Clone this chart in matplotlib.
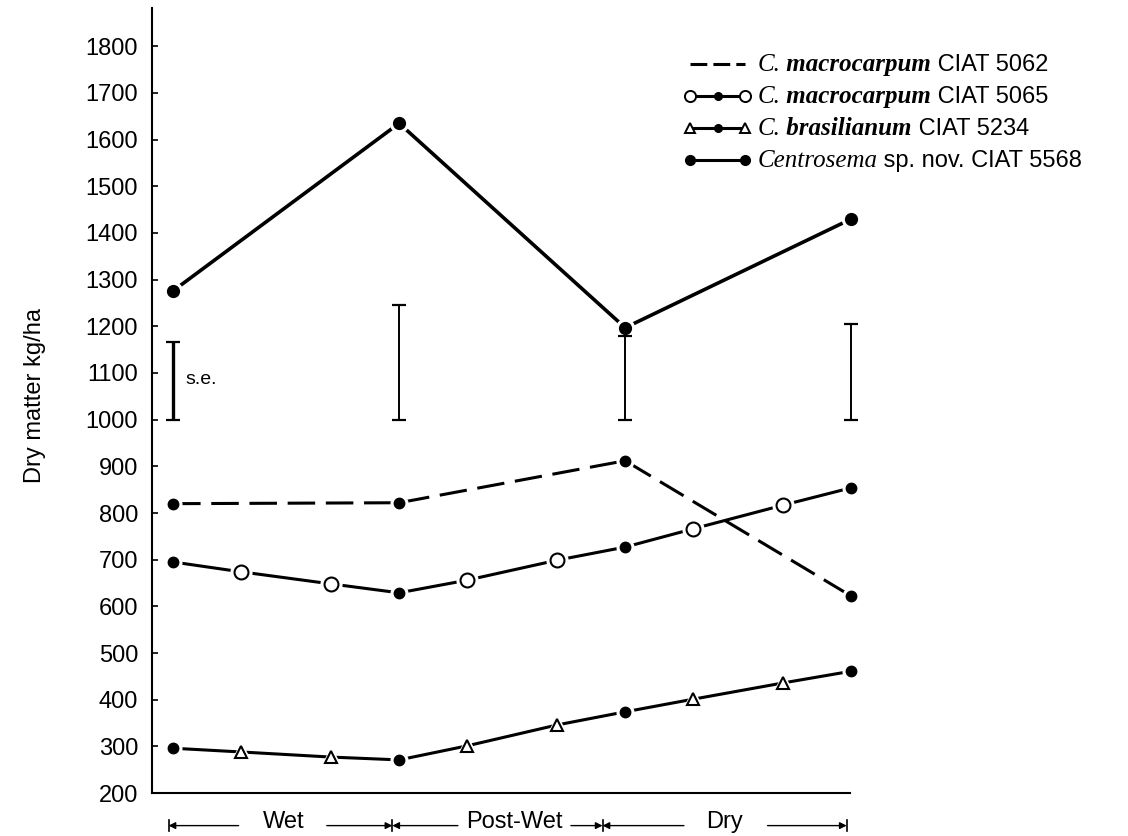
import matplotlib
matplotlib.use('Agg')
from matplotlib import pyplot as plt
from matplotlib import transforms

plt.rcParams.update({'font.family': 'Liberation Sans', 'font.size': 17})

# cutting dates, weeks from the first harvest of the wet season
weeks = [0, 3, 7, 10, 13, 17, 20, 23, 27, 30]
season_weeks = [0, 10, 20, 30]

# dry matter yield, kg/ha
cm5062 = [820, 822, 912, 622]
cm5065 = [695, 674, 648, 629, 656, 699, 727, 766, 817, 854]
cb5234 = [296, 288, 277, 271, 301, 346, 374, 401, 436, 461]
cs5568 = [1276, 1635, 1197, 1430]

# standard error bars drawn up from 1000
se_base = 1000
se_top = [1167, 1246, 1180, 1204]

seasons = ['Wet', 'Post-Wet', 'Dry']
season_edges = [-0.2, 9.7, 19.0, 29.8]
season_mid = [4.9, 15.1, 24.4]
season_gaps = [(2.9, 6.8), (12.6, 17.6), (22.6, 26.3)]

taxa = ['C.', 'C.', 'C.', 'Centrosema']
epithets = [' macrocarpum', ' macrocarpum', ' brasilianum', '']
accessions = [' CIAT 5062', ' CIAT 5065', ' CIAT 5234', ' sp. nov. CIAT 5568']

LW = 2.2
SERIF = 'Liberation Serif'


def marks(ax, x, y, marker, ms, filled, mew=1.5):
    # white halo first so the line stops short of each symbol
    ax.plot(x, y, ls='none', marker=marker, ms=ms + 5, mfc='white', mec='white',
            zorder=3, clip_on=False)
    ax.plot(x, y, ls='none', marker=marker, ms=ms, mew=mew, mec='k',
            mfc='k' if filled else 'white', zorder=4, clip_on=False)


def split(xs, ys):
    on = [(x, y) for x, y in zip(xs, ys) if x in season_weeks]
    off = [(x, y) for x, y in zip(xs, ys) if x not in season_weeks]
    return list(zip(*on)), list(zip(*off))


fig = plt.figure(figsize=(11.28, 8.36), dpi=100)
ax = fig.add_axes([0.1348, 0.0514, 0.6188, 0.939])
ax.set_xlim(-0.93, 29.95)
ax.set_ylim(200, 1882)
for s in ['top', 'right']:
    ax.spines[s].set_visible(False)
ax.spines['left'].set_linewidth(1.5)
ax.spines['bottom'].set_linewidth(1.5)
ax.set_xticks([])
ax.set_yticks(range(200, 1801, 100))
ax.tick_params(axis='y', direction='in', length=4, width=1.2, pad=10, labelsize=17)
ax.set_ylabel('Dry matter kg/ha', fontsize=17)
ax.yaxis.set_label_coords(-0.152, 0.507)

# C. macrocarpum 5062
ax.plot(season_weeks, cm5062, color='k', lw=LW, dashes=(9, 3.5), zorder=2)
marks(ax, season_weeks, cm5062, 'o', 7, True)

# C. macrocarpum 5065
ax.plot(weeks, cm5065, color='k', lw=LW, zorder=2)
(fx, fy), (ox, oy) = split(weeks, cm5065)
marks(ax, fx, fy, 'o', 7, True)
marks(ax, ox, oy, 'o', 10, False)

# C. brasilianum 5234
ax.plot(weeks, cb5234, color='k', lw=LW, zorder=2)
(fx, fy), (ox, oy) = split(weeks, cb5234)
marks(ax, fx, fy, 'o', 7, True)
marks(ax, ox, oy, '^', 9, False)

# Centrosema sp. nov. 5568
ax.plot(season_weeks, cs5568, color='k', lw=2.6, zorder=2)
marks(ax, season_weeks, cs5568, 'o', 8, True)

# s.e. bars
for i, (w, top) in enumerate(zip(season_weeks, se_top)):
    half = (top - se_base) / 2
    eb = ax.errorbar([w], [se_base + half], yerr=[half], fmt='none', ecolor='k',
                     elinewidth=2.4 if i == 0 else 1.4, capsize=5,
                     capthick=1.6, zorder=5)
    for art in eb.get_children():
        art.set_clip_on(False)
ax.text(0.55, 1085, 's.e.', fontsize=14, ha='left', va='center')

# season brackets under the axis
trans = transforms.blended_transform_factory(ax.transData, ax.transAxes)
y_txt, y_arr = -0.037, -0.0415
arrow = dict(arrowstyle='-|>', lw=1, color='k', mutation_scale=10,
             shrinkA=0, shrinkB=0)
for name, x0, x1, xm, (g0, g1) in zip(seasons, season_edges[:-1],
                                      season_edges[1:], season_mid, season_gaps):
    ax.text(xm, y_txt, name, transform=trans, ha='center', va='center', fontsize=17)
    ax.annotate('', xy=(x0, y_arr), xytext=(g0, y_arr), xycoords=trans,
                textcoords=trans, arrowprops=arrow, annotation_clip=False)
    ax.annotate('', xy=(x1, y_arr), xytext=(g1, y_arr), xycoords=trans,
                textcoords=trans, arrowprops=arrow, annotation_clip=False)
for e in season_edges:
    ax.plot([e, e], [y_arr - 0.007, y_arr + 0.007], transform=trans,
            color='k', lw=1.2, clip_on=False)

# key, top right
rows = [0.9287, 0.8879, 0.8471, 0.8064]
lx0, lxm, lx1, tx = 0.771, 0.8105, 0.850, 0.867
key = dict(transform=ax.transAxes, clip_on=False, color='k')
ax.plot([lx0, lx1], [rows[0]] * 2, lw=LW, dashes=(5.5, 2), **key)
for r, m, ms in [(rows[1], 'o', 8), (rows[2], '^', 7)]:
    ax.plot([lx0, lx1], [r, r], lw=LW, **key)
    ax.plot([lx0, lx1], [r, r], ls='none', marker=m, ms=ms, mfc='white',
            mec='k', mew=1.4, transform=ax.transAxes, clip_on=False, zorder=4)
    ax.plot([lxm], [r], ls='none', marker='o', ms=5.5, **key)
ax.plot([lx0, lx1], [rows[3]] * 2, lw=LW, marker='o', ms=7, **key)

for r, taxon, ep, acc in zip(rows, taxa, epithets, accessions):
    base = r - 0.009
    t = ax.text(tx, base, taxon, transform=ax.transAxes, va='baseline',
                ha='left', family=SERIF, style='italic', fontsize=18)
    if ep:
        t = ax.annotate(ep, xy=(1, base), xycoords=(t, ax.transAxes),
                        va='baseline', ha='left', family=SERIF,
                        style='italic', weight='bold', fontsize=18)
    ax.annotate(acc, xy=(1, base), xycoords=(t, ax.transAxes),
                va='baseline', ha='left', fontsize=17)

fig.savefig('out.png', dpi=100)
